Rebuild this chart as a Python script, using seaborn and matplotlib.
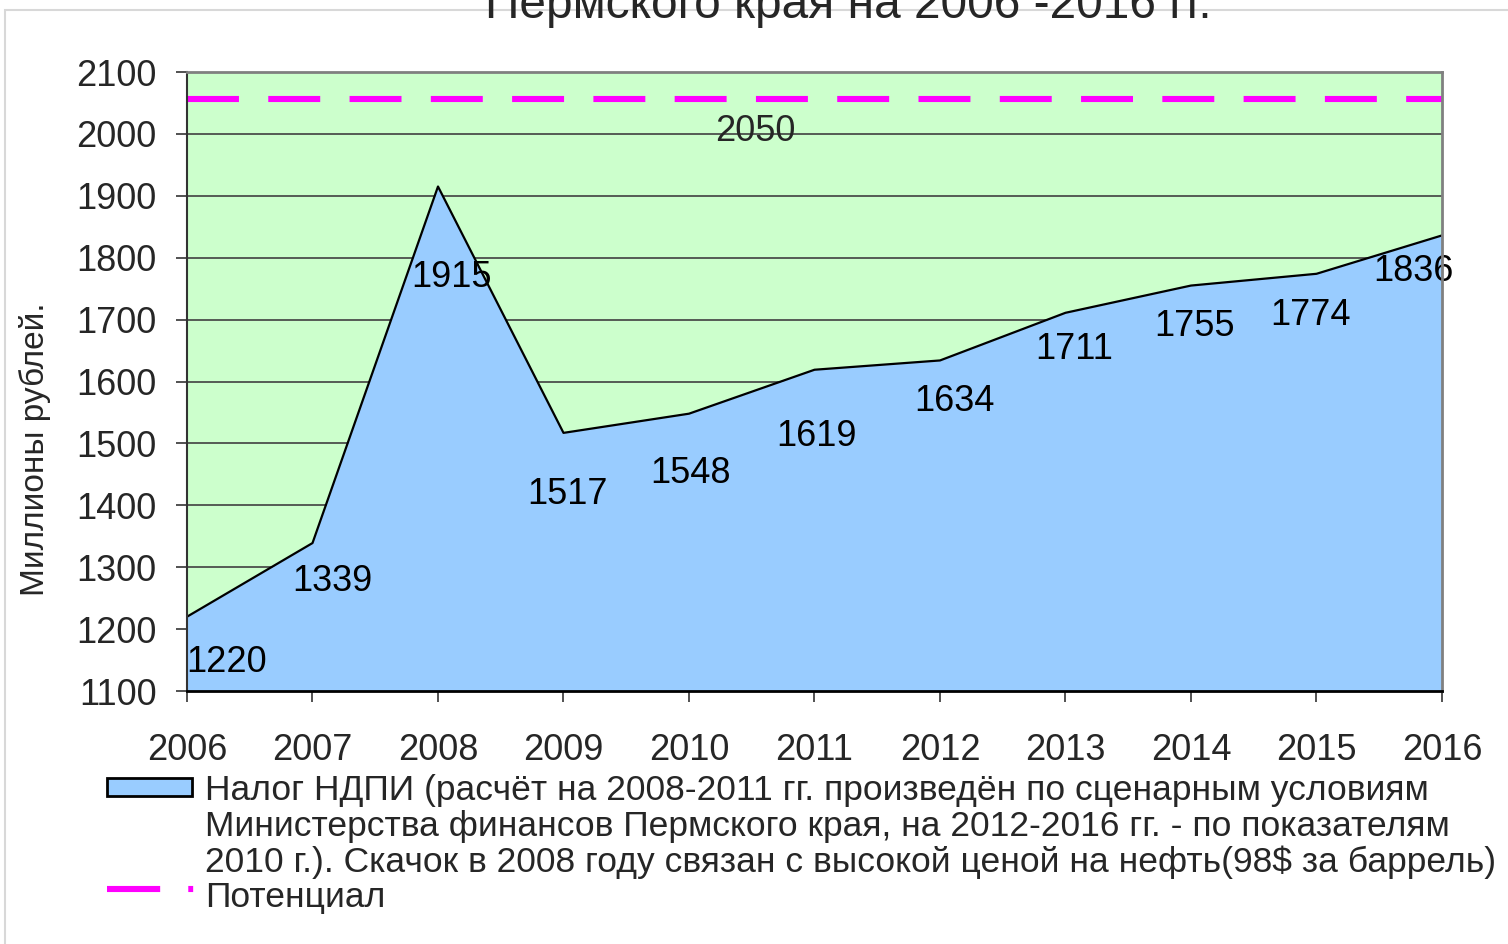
import matplotlib
matplotlib.use("Agg")
import matplotlib.pyplot as plt
from matplotlib.patches import Rectangle
from matplotlib.lines import Line2D
import seaborn as sns
import pandas as pd

# chart data
years = [2006, 2007, 2008, 2009, 2010, 2011, 2012, 2013, 2014, 2015, 2016]
ndpi_tax = [1220, 1339, 1915, 1517, 1548, 1619, 1634, 1711, 1755, 1774, 1836]
potential_level = 2056
potential_label = "2050"
y_ticks = list(range(1100, 2101, 100))

title_text = "Пермского края на 2006 -2016 гг."
ylabel_text = "Миллионы рублей."
legend_ndpi = ("Налог НДПИ (расчёт на 2008-2011 гг. произведён по сценарным условиям\n"
               "Министерства финансов Пермского края, на 2012-2016 гг. - по показателям\n"
               "2010 г.). Скачок в 2008 году связан с высокой ценой на нефть(98$ за баррель)")
legend_potential = "Потенциал"

# label offsets in pixels (layout only)
label_offsets = [(40, -46), (20, -38), (14, -91), (4, -62), (2, -60), (2, -67),
                 (14, -41), (9, -37), (4, -41), (-6, -42), (-29, -36)]

BLUE = "#99CCFF"
GREEN = "#CCFFCC"
MAGENTA = "#FF00FF"

sns.set_style("white")
plt.rcParams["font.family"] = ["Liberation Sans", "DejaVu Sans"]

df = pd.DataFrame({"year": years, "tax": ndpi_tax})

fig = plt.figure(figsize=(15.08, 9.44), dpi=100)
ax = fig.add_axes([187 / 1508, 1 - 691 / 944, (1442 - 187) / 1508, (691 - 72) / 944])
ax.set_facecolor(GREEN)

# light frame around the slide area
fig.patches.append(Rectangle((5 / 1508, -0.02), 1.1, 1 - 10 / 944 + 0.02,
                             transform=fig.transFigure, fill=False,
                             edgecolor="#d8d8d8", lw=1.5, zorder=0))

ax.fill_between(df["year"], df["tax"], 1100, color=BLUE, zorder=2, lw=0)
sns.lineplot(data=df, x="year", y="tax", ax=ax, color="black", lw=1.6, zorder=3)

ax.axhline(potential_level, color=MAGENTA, lw=4.4, dashes=(8.5, 4.8), zorder=4)

for x, v, (dx, dy) in zip(years, ndpi_tax, label_offsets):
    ax.annotate(str(v), (x, v), xytext=(dx, dy), textcoords="offset pixels",
                ha="center", va="center", fontsize=26, color="black", zorder=5)
ax.annotate(potential_label, (2011, potential_level), xytext=(-59, -32),
            textcoords="offset pixels", ha="center", va="center", fontsize=26, zorder=5)

ax.set_xlim(years[0], years[-1])
ax.set_ylim(y_ticks[0], y_ticks[-1])
ax.set_xticks(years)
ax.set_yticks(y_ticks)
ax.set_xlabel("")
ax.set_ylabel(ylabel_text, fontsize=24)
ax.yaxis.set_label_coords(-0.108, 0.39)

ax.grid(True, axis="y", color="#404040", lw=1.2)
ax.set_axisbelow(True)
ax.tick_params(axis="x", direction="out", length=8, width=1.2, color="#333333",
               labelsize=26, pad=22)
ax.tick_params(axis="y", direction="out", length=8, width=1.2, color="#333333",
               labelsize=26, pad=14)
ax.tick_params(bottom=True, left=True)

for side in ["top", "right"]:
    ax.spines[side].set_color("#808080")
    ax.spines[side].set_linewidth(2)
ax.spines["left"].set_color("#333333")
ax.spines["left"].set_linewidth(1.5)
ax.spines["bottom"].set_color("black")
ax.spines["bottom"].set_linewidth(2)
for s in ax.spines.values():
    s.set_zorder(6)

# title (first line is off the top of the picture)
fig.text(848 / 1508, 1 - 18 / 944, title_text, ha="center", va="baseline", fontsize=34.5)

# legend drawn by hand to match the layout
fig.patches.append(Rectangle((107 / 1508, 1 - 796 / 944), 85 / 1508, 18 / 944,
                             transform=fig.transFigure, facecolor=BLUE,
                             edgecolor="black", lw=2))
fig.text(205 / 1508, 1 - 774 / 944, legend_ndpi, ha="left", va="top",
         fontsize=25.5, linespacing=1.1)
fig.lines.append(Line2D([107 / 1508, 200 / 1508], [1 - 889 / 944] * 2,
                        transform=fig.transFigure, color=MAGENTA, lw=4.4,
                        dashes=(8.7, 4.6, 0.8, 100)))
fig.text(205 / 1508, 1 - 897 / 944, legend_potential, ha="left", va="center", fontsize=25.5)

fig.savefig("out.png", dpi=100)
